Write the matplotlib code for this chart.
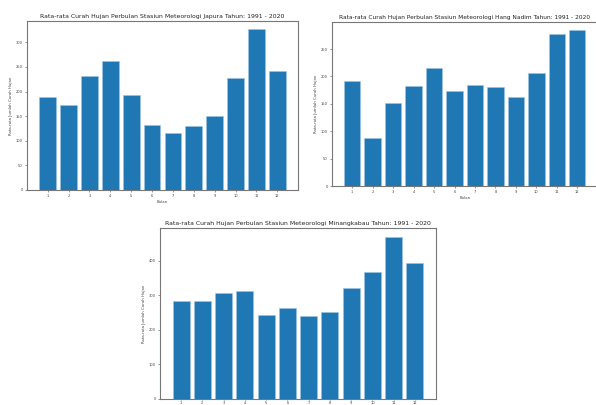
import matplotlib
matplotlib.use("Agg")
import matplotlib.pyplot as plt

bulan = list(range(1, 13))

# Rata-rata curah hujan bulanan (mm), 1991 - 2020
japura = [188, 172, 232, 263, 192, 132, 116, 130, 151, 228, 327, 241]
hang_nadim = [192, 87, 151, 182, 215, 174, 184, 181, 162, 206, 278, 285]
minangkabau = [282, 282, 307, 312, 242, 263, 239, 252, 320, 368, 470, 393]

stasiun = [
    ("Japura", japura, [0.0453, 0.5309, 0.4547, 0.4173], [0, 50, 100, 150, 200, 250, 300], True, 4.4),
    ("Hang Nadim", hang_nadim, [0.5570, 0.5407, 0.4455, 0.4049], [0, 50, 100, 150, 200, 250], True, 4.2),
    ("Minangkabau", minangkabau, [0.2685, 0.0150, 0.4631, 0.4210], [0, 100, 200, 300, 400], False, 4.45),
]

BAR = "#1f77b4"
fig = plt.figure(figsize=(5.96, 4.05), dpi=100)

for nama, nilai, rect, yt, label_x, fs in stasiun:
    ax = fig.add_axes(rect)
    ax.bar(bulan, nilai, width=0.8, color=BAR, edgecolor="#9cc3e0", linewidth=0.4)
    ax.set_xticks(bulan)
    ax.set_xticklabels([str(b) for b in bulan])
    ax.set_yticks(yt)
    ax.tick_params(labelsize=2.6, length=1.5, width=0.4, pad=1.5, colors="#444444")
    if not label_x:
        ax.tick_params(axis="x", length=1, pad=0.4)
    ax.set_title(f"Rata-rata Curah Hujan Perbulan Stasiun Meteorologi {nama} Tahun: 1991 - 2020",
                 fontsize=fs, pad=2.5, color="#222222")
    if label_x:
        ax.set_xlabel("Bulan", fontsize=2.8, labelpad=1.5, color="#444444")
    ax.set_ylabel("Rata-rata Jumlah Curah Hujan", fontsize=2.8, labelpad=2, color="#444444")
    for s in ax.spines.values():
        s.set_color("#777777")
        s.set_linewidth(0.8)

fig.savefig("out.png", dpi=100)
